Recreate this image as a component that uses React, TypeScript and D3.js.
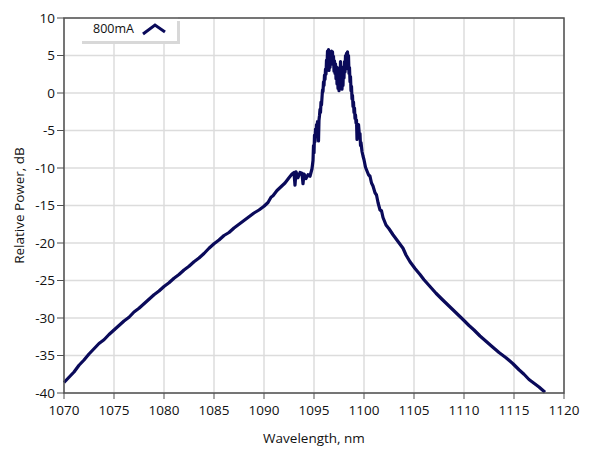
import * as d3 from "d3";

// spectrum (nm, dB)
const wavelength = [
  1070, 1070.5, 1071, 1071.5, 1072, 1072.5, 1073, 1073.5, 1074, 1074.5,
  1075, 1075.5, 1076, 1076.5, 1077, 1077.5, 1078, 1078.5, 1079, 1079.5,
  1080, 1080.5, 1081, 1081.5, 1082, 1082.5, 1083, 1083.5, 1084, 1084.5,
  1085, 1085.5, 1086, 1086.5, 1087, 1087.5, 1088, 1088.5, 1089, 1089.5,
  1090, 1090.4, 1090.7, 1090.9, 1091.3, 1091.7, 1092.1, 1092.5, 1092.8, 1093.0,
  1093.1, 1093.2, 1093.4, 1093.6, 1093.8, 1093.9, 1094.0, 1094.2, 1094.4, 1094.6,
  1094.8, 1094.9, 1094.95, 1095.0, 1095.05, 1095.1, 1095.15, 1095.2, 1095.25, 1095.3,
  1095.35, 1095.4, 1095.45, 1095.5, 1095.55, 1095.6, 1095.65, 1095.7, 1095.75, 1095.8,
  1095.85, 1095.9, 1095.95, 1096.0, 1096.05, 1096.1, 1096.15, 1096.2, 1096.25, 1096.3,
  1096.35, 1096.4, 1096.45, 1096.5, 1096.55, 1096.6, 1096.65, 1096.7, 1096.75, 1096.8,
  1096.85, 1096.9, 1096.95, 1097.0, 1097.05, 1097.1, 1097.15, 1097.2, 1097.25, 1097.3,
  1097.35, 1097.4, 1097.45, 1097.5, 1097.55, 1097.6, 1097.65, 1097.7, 1097.75, 1097.8,
  1097.85, 1097.9, 1097.95, 1098.0, 1098.05, 1098.1, 1098.15, 1098.2, 1098.25, 1098.3,
  1098.35, 1098.4, 1098.45, 1098.5, 1098.55, 1098.6, 1098.65, 1098.7, 1098.75, 1098.8,
  1098.85, 1098.9, 1098.95, 1099.0, 1099.05, 1099.1, 1099.15, 1099.2, 1099.25, 1099.3,
  1099.35, 1099.4, 1099.45, 1099.5, 1099.55, 1099.6, 1099.65, 1099.7, 1099.8, 1099.9,
  1100.0, 1100.15, 1100.3, 1100.45, 1100.6, 1100.75, 1100.9, 1101.1, 1101.25, 1101.4,
  1101.6, 1101.75, 1101.9, 1102.2, 1102.5, 1102.9, 1103.4, 1103.9, 1104.2, 1104.6,
  1105.1, 1105.6, 1106.0, 1106.6, 1107.2, 1107.8, 1108.5, 1109.2, 1109.9, 1110.5,
  1111.0, 1111.6, 1112.2, 1112.8, 1113.5, 1114.2, 1114.9, 1115.5, 1116.0, 1116.5,
  1117.0, 1117.5, 1118.1,
];

const power = [
  -38.6, -37.9, -37.2, -36.3, -35.6, -34.8, -34.1, -33.4, -32.9, -32.2,
  -31.6, -31.0, -30.4, -29.9, -29.2, -28.7, -28.1, -27.5, -26.9, -26.4,
  -25.8, -25.3, -24.7, -24.2, -23.6, -23.1, -22.5, -22.0, -21.4, -20.7,
  -20.1, -19.6, -19.0, -18.6, -18.0, -17.5, -17.0, -16.5, -16.0, -15.6,
  -15.1, -14.6, -13.9, -13.7, -13.0, -12.5, -12.0, -11.3, -10.8, -10.6,
  -12.3, -10.5, -11.3, -10.6, -10.7, -12.1, -10.8, -11.4, -10.9, -11.1,
  -10.1, -9.0, -7.0, -8.0, -5.6, -6.5, -4.8, -5.6, -4.2, -4.8,
  -3.8, -4.5, -6.4, -3.6, -3.0, -2.2, -2.6, -1.2, -1.6, -0.6,
  0.4, 0.2, 1.5, 1.0, 2.4, 1.8, 3.2, 2.5, 4.4, 3.6,
  5.6, 4.6, 5.8, 3.0, 4.8, 3.4, 5.2, 4.0, 5.6, 4.2,
  5.5, 3.8, 4.9, 2.9, 4.3, 2.6, 3.9, 1.9, 3.5, 1.2,
  3.0, 0.6, 2.6, 0.3, 3.4, 1.4, 4.2, 2.0, 3.3, 0.5,
  2.5, 1.0, 3.5, 2.0, 4.2, 2.8, 5.0, 3.2, 5.3, 4.0,
  5.5, 3.8, 5.0, 2.6, 3.4, 1.5, 2.2, 0.3, 0.9, -0.8,
  -0.3, -1.8, -1.2, -2.6, -2.0, -3.4, -2.9, -4.0, -3.6, -6.2,
  -4.6, -5.4, -4.2, -5.0, -6.0, -5.4, -7.0, -6.6, -7.8, -8.4,
  -8.9, -9.9, -10.4, -10.9, -11.1, -12.0, -12.4, -13.3, -13.6, -14.6,
  -15.6, -15.7, -16.6, -17.6, -18.1, -18.9, -19.8, -20.7, -21.6, -22.5,
  -23.4, -24.2, -24.9, -25.8, -26.7, -27.5, -28.4, -29.3, -30.2, -31.0,
  -31.6, -32.4, -33.1, -33.8, -34.6, -35.3, -36.1, -36.9, -37.5, -38.2,
  -38.7, -39.2, -39.9,
];

const xTicks = [1070, 1075, 1080, 1085, 1090, 1095, 1100, 1105, 1110, 1115, 1120];
const yTicks = [10, 5, 0, -5, -10, -15, -20, -25, -30, -35, -40];
const seriesName = "800mA";

export default function App() {
  const width = 589;
  const height = 456;
  const margin = { top: 18, right: 25, bottom: 63, left: 64 };
  const font = "'Open Sans', 'Noto Sans', sans-serif";
  const lineColor = "#0a0a5a";

  const x = d3
    .scaleLinear()
    .domain([1070, 1120])
    .range([margin.left, width - margin.right]);
  const y = d3
    .scaleLinear()
    .domain([-40, 10])
    .range([height - margin.bottom, margin.top]);

  const line = d3
    .line<number>()
    .x((d) => x(d))
    .y((_, i) => y(power[i]));

  const left = x.range()[0];
  const right = x.range()[1];
  const top = y.range()[1];
  const bottom = y.range()[0];

  return (
    <svg
      width={width}
      height={height}
      style={{ position: "absolute", left: 0, top: 0, background: "#fff" }}
      fontFamily={font}
    >
      {/* grid */}
      {xTicks.map((t) => (
        <line key={"gx" + t} x1={x(t)} x2={x(t)} y1={top} y2={bottom} stroke="#dcdcdc" strokeWidth={1.5} />
      ))}
      {yTicks.map((t) => (
        <line key={"gy" + t} x1={left} x2={right} y1={y(t)} y2={y(t)} stroke="#dcdcdc" strokeWidth={1.5} />
      ))}

      {/* spectrum */}
      <path
        d={line(wavelength) ?? ""}
        fill="none"
        stroke={lineColor}
        strokeWidth={3.2}
        strokeLinejoin="round"
      />

      {/* legend */}
      <rect x={80} y={17} width={98} height={25} fill="#fff" />
      <line x1={82} x2={180} y1={42.5} y2={42.5} stroke="#d8d8d8" strokeWidth={3} />
      <line x1={178.5} x2={178.5} y1={21} y2={42} stroke="#d8d8d8" strokeWidth={3} />
      <text x={93} y={33} fontSize={12.5} fill="#111">
        {seriesName}
      </text>
      <path d="M143,34 L155,25 L165,32" fill="none" stroke={lineColor} strokeWidth={3} />

      {/* frame */}
      <rect x={left} y={top} width={right - left} height={bottom - top} fill="none" stroke="#505050" strokeWidth={1.5} />

      {/* y axis */}
      {yTicks.map((t) => (
        <g key={"ty" + t}>
          <line x1={left - 7} x2={left} y1={y(t)} y2={y(t)} stroke="#505050" strokeWidth={1} />
          <text x={left - 9} y={y(t)} dy="0.35em" textAnchor="end" fontSize={13.5} fill="#111">
            {t}
          </text>
        </g>
      ))}
      {/* x axis */}
      {xTicks.map((t) => (
        <g key={"tx" + t}>
          <line x1={x(t)} x2={x(t)} y1={bottom} y2={bottom + 6} stroke="#505050" strokeWidth={1} />
          <text x={x(t)} y={bottom + 22} textAnchor="middle" fontSize={13.5} fill="#111">
            {t}
          </text>
        </g>
      ))}

      <text x={(left + right) / 2} y={443} textAnchor="middle" fontSize={13.5} fill="#111">
        Wavelength, nm
      </text>
      <text
        transform={`translate(24,${(top + bottom) / 2}) rotate(-90)`}
        textAnchor="middle"
        fontSize={13.5}
        fill="#111"
      >
        Relative Power, dB
      </text>
    </svg>
  );
}
